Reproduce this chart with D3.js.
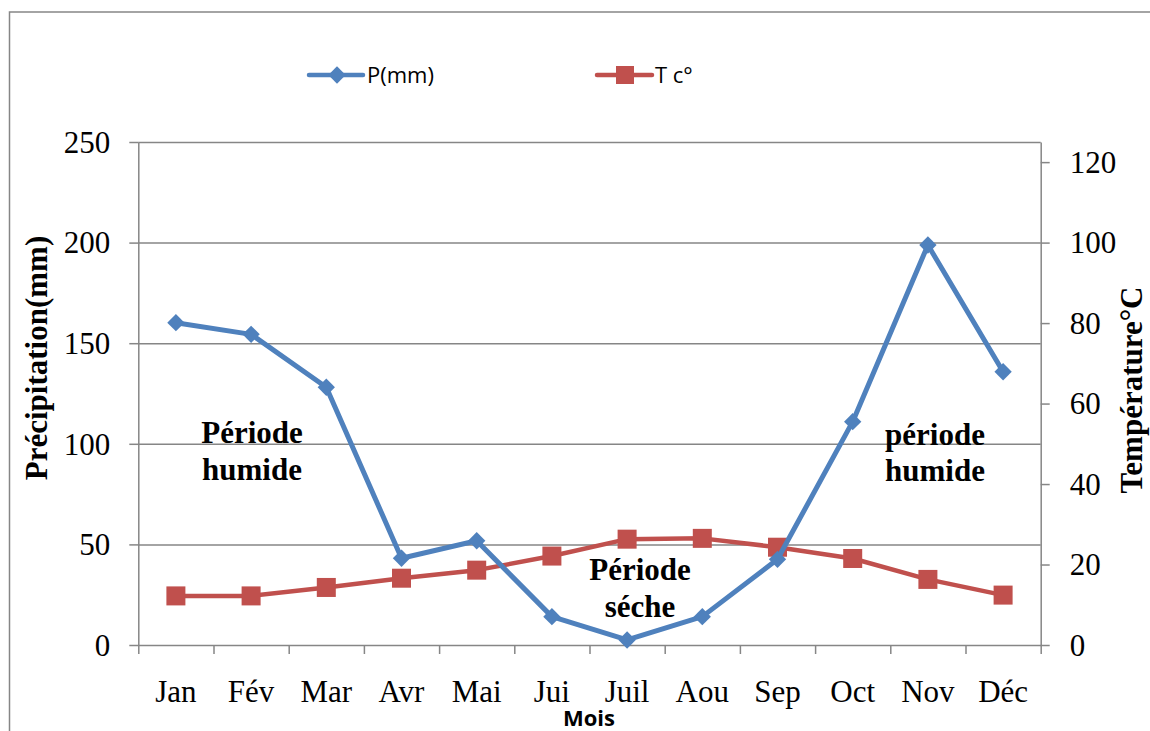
<!DOCTYPE html>
<html>
<head>
<meta charset="utf-8">
<script src="https://cdn.jsdelivr.net/npm/d3@7"></script>
<style>
  body { margin: 0; background: #fff; }
  svg { display: block; }
  .tick text { font-family: "Liberation Serif", "Times New Roman", serif; font-size: 31px; fill: #000; }
  .axis path, .axis line { stroke: #868686; stroke-width: 1.5; }
  .grid line { stroke: #868686; stroke-width: 1.5; }
  .grid path { display: none; }
</style>
</head>
<body>
<svg id="chart"></svg>
<script>
// Monthly data
const months = ['Jan', 'Fév', 'Mar', 'Avr', 'Mai', 'Jui', 'Juil', 'Aou', 'Sep', 'Oct', 'Nov', 'Déc'];
const precip = [160.2, 154.4, 128.1, 43.1, 51.8, 14.1, 2.5, 14.1, 42.6, 111, 198.8, 135.8];
const temp = [12.2, 12.2, 14.3, 16.6, 18.6, 22.1, 26.3, 26.5, 24.3, 21.5, 16.3, 12.4];
const leftTicks = [0, 50, 100, 150, 200, 250];
const rightTicks = [0, 20, 40, 60, 80, 100, 120];

const config = {
    width: 1150,
    height: 731,
    margin: {top: 142, right: 109.3, bottom: 86, left: 138.3}
};

const blue = '#4F81BD';
const red = '#C0504D';

const innerW = config.width - config.margin.left - config.margin.right;
const innerH = config.height - config.margin.top - config.margin.bottom;

const svg = d3.select('#chart')
    .attr('width', config.width)
    .attr('height', config.height);

// Outer chart border (goes past right/bottom edges)
svg.append('rect')
    .attr('x', 9.5).attr('y', 12)
    .attr('width', 1160).attr('height', 740)
    .attr('fill', 'none')
    .attr('stroke', '#868686')
    .attr('stroke-width', 1.5);

const chart = svg.append('g')
    .attr('transform', `translate(${config.margin.left},${config.margin.top})`);

// Scales
const xScale = d3.scaleBand().domain(months).range([0, innerW]).padding(0);
const xEdges = d3.scaleLinear().domain([0, months.length]).range([0, innerW]);
const yLeft = d3.scaleLinear().domain([0, 250]).range([innerH, 0]);
const yRight = d3.scaleLinear().domain([0, 125]).range([innerH, 0]);

// Gridlines
chart.append('g')
    .attr('class', 'grid')
    .call(d3.axisLeft(yLeft).tickValues(leftTicks.slice(1)).tickSize(-innerW).tickFormat(''));

// Left axis
chart.append('g')
    .attr('class', 'axis')
    .call(d3.axisLeft(yLeft).tickValues(leftTicks).tickSize(9).tickSizeOuter(0).tickPadding(19))
    .call(g => g.selectAll('text').attr('dy', '0.33em'));

// Right axis
chart.append('g')
    .attr('class', 'axis')
    .attr('transform', `translate(${innerW},0)`)
    .call(d3.axisRight(yRight).tickValues(rightTicks).tickSize(9).tickSizeOuter(0).tickPadding(20))
    .call(g => g.selectAll('text').attr('dy', '0.33em'));

// Bottom axis: ticks on category boundaries
chart.append('g')
    .attr('class', 'axis')
    .attr('transform', `translate(0,${innerH})`)
    .call(d3.axisBottom(xEdges).ticks(months.length).tickSize(9).tickSizeOuter(0).tickFormat(''));

// Month labels
chart.selectAll('.month')
    .data(months)
    .enter()
    .append('text')
    .attr('class', 'month')
    .attr('x', d => xScale(d) + xScale.bandwidth() / 2)
    .attr('y', innerH + 57)
    .attr('text-anchor', 'middle')
    .style('font-family', '"Liberation Serif", "Times New Roman", serif')
    .style('font-size', '31px')
    .text(d => d);

const cx = d => xScale(d) + xScale.bandwidth() / 2;

// Temperature line (right axis)
const tData = months.map((m, i) => ({m: m, v: temp[i]}));
chart.append('path')
    .datum(tData)
    .attr('fill', 'none')
    .attr('stroke', red)
    .attr('stroke-width', 4.5)
    .attr('stroke-linejoin', 'round')
    .attr('d', d3.line().x(d => cx(d.m)).y(d => yRight(d.v)));

chart.selectAll('.tpoint')
    .data(tData)
    .enter()
    .append('rect')
    .attr('class', 'tpoint')
    .attr('x', d => cx(d.m) - 9.5)
    .attr('y', d => yRight(d.v) - 9.5)
    .attr('width', 19)
    .attr('height', 19)
    .attr('fill', red);

// Precipitation line (left axis)
const pData = months.map((m, i) => ({m: m, v: precip[i]}));
chart.append('path')
    .datum(pData)
    .attr('fill', 'none')
    .attr('stroke', blue)
    .attr('stroke-width', 5)
    .attr('stroke-linejoin', 'round')
    .attr('d', d3.line().x(d => cx(d.m)).y(d => yLeft(d.v)));

const diamond = d3.symbol().type(d3.symbolSquare).size(150);
chart.selectAll('.ppoint')
    .data(pData)
    .enter()
    .append('path')
    .attr('class', 'ppoint')
    .attr('d', diamond)
    .attr('transform', d => `translate(${cx(d.m)},${yLeft(d.v)}) rotate(45)`)
    .attr('fill', blue);

// Annotations
const notes = [
    {x: 252, lines: ['Période', 'humide'], y: [443, 480]},
    {x: 640, lines: ['Période', 'séche'], y: [580, 617]},
    {x: 935, lines: ['période', 'humide'], y: [445, 481]}
];
notes.forEach(n => {
    n.lines.forEach((t, i) => {
        svg.append('text')
            .attr('x', n.x)
            .attr('y', n.y[i])
            .attr('text-anchor', 'middle')
            .style('font-family', '"Liberation Serif", "Times New Roman", serif')
            .style('font-size', '31px')
            .style('font-weight', 'bold')
            .text(t);
    });
});

// Axis titles
svg.append('text')
    .attr('transform', 'translate(47,358) rotate(-90)')
    .attr('text-anchor', 'middle')
    .style('font-family', '"Liberation Serif", "Times New Roman", serif')
    .style('font-size', '31px')
    .style('font-weight', 'bold')
    .text('Précipitation(mm)');

svg.append('text')
    .attr('transform', 'translate(1142,390) rotate(-90)')
    .attr('text-anchor', 'middle')
    .style('font-family', '"Liberation Serif", "Times New Roman", serif')
    .style('font-size', '31px')
    .style('font-weight', 'bold')
    .text('Température°C');

svg.append('text')
    .attr('x', 589)
    .attr('y', 726)
    .attr('text-anchor', 'middle')
    .style('font-family', '"Open Sans", "Liberation Sans", sans-serif')
    .style('font-size', '22px')
    .style('font-weight', 'bold')
    .text('Mois');

// Legend
const legend = svg.append('g');
legend.append('line')
    .attr('x1', 309).attr('x2', 363).attr('y1', 75).attr('y2', 75)
    .attr('stroke', blue).attr('stroke-width', 4.5).attr('stroke-linecap', 'round');
legend.append('path')
    .attr('d', diamond)
    .attr('transform', 'translate(337,75) rotate(45)')
    .attr('fill', blue);
legend.append('text')
    .attr('x', 367).attr('y', 83)
    .style('font-family', '"Open Sans", "Liberation Sans", sans-serif')
    .style('font-size', '22px')
    .text('P(mm)');

legend.append('line')
    .attr('x1', 597).attr('x2', 652).attr('y1', 75).attr('y2', 75)
    .attr('stroke', red).attr('stroke-width', 4.5).attr('stroke-linecap', 'round');
legend.append('rect')
    .attr('x', 616).attr('y', 66).attr('width', 18).attr('height', 18)
    .attr('fill', red);
legend.append('text')
    .attr('x', 655).attr('y', 83)
    .style('font-family', '"Open Sans", "Liberation Sans", sans-serif')
    .style('font-size', '22px')
    .text('T c°');
</script>
</body>
</html>
